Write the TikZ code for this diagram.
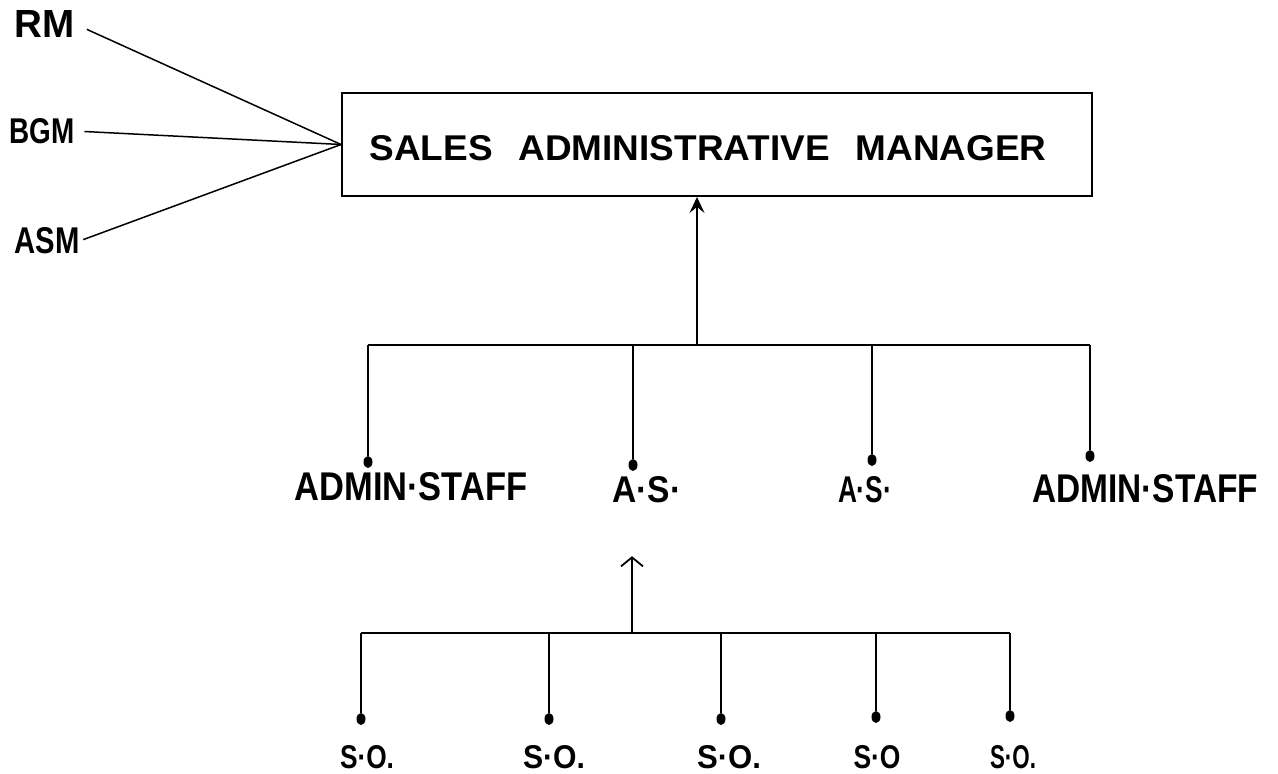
\documentclass[tikz,border=0pt]{standalone}
\usepackage{fontspec}
\setmainfont{Liberation Sans}
\usetikzlibrary{arrows.meta,shapes.geometric}
% bold caption squeezed into a box of given width and height (in pt)
\newcommand{\handtext}[3]{\resizebox{#1pt}{#2pt}{\bfseries #3}}
\begin{document}
\begin{tikzpicture}[x=1pt,y=-1pt,
  ink/.style={line width=1.5pt, black},
  lbl/.style={inner sep=0pt, outer sep=0pt},
  knob/.style={ellipse, fill=black, inner sep=0pt, minimum width=9pt, minimum height=12pt},
  headbox/.style={draw, line width=1.9pt, inner sep=0pt,
                  minimum width=750pt, minimum height=103pt}]
\useasboundingbox (0,0) rectangle (1278,774);

% sources on the left
\node[lbl] (rm)  at (45,24)  {\handtext{60}{27}{RM}};
\node[lbl] (bgm) at (42,131) {\handtext{65}{25}{BGM}};
\node[lbl] (asm) at (47,241) {\handtext{65}{26}{ASM}};

% head box
\node[headbox] (sam) at (717,144.5) {};
\node[lbl] (samtext) at (708,148)
  {\handtext{677}{25}{SALES\hspace{0.7em}ADMINISTRATIVE\hspace{0.7em}MANAGER}};

\draw[ink, shorten <=13pt] (rm.east)  -- (sam.west);
\draw[ink, shorten <=10pt] (bgm.east) -- (sam.west);
\draw[ink, shorten <=4pt]  (asm.east) -- (sam.west);

% middle level
\coordinate (bus1) at (697,345);
\node[knob] (k1) at (368,462)  {};
\node[knob] (k2) at (633,465)  {};
\node[knob] (k3) at (872,460)  {};
\node[knob] (k4) at (1090,456) {};
\draw[ink] (k1 |- bus1) -- (k4 |- bus1);
\foreach \k in {k1,k2,k3,k4} \draw[ink] (\k |- bus1) -- (\k);
\draw[ink, -{Stealth[length=16pt,width=15pt,inset=6pt]}] (bus1) -- (bus1 |- sam.south);

\node[lbl] (ad1) at (411,487)  {\handtext{233}{28}{ADMIN·STAFF}};
\node[lbl] (as1) at (647,490)  {\handtext{69}{26}{A·S·}};
\node[lbl] (as2) at (865,490)  {\handtext{54}{26}{A·S·}};
\node[lbl] (ad2) at (1145,489) {\handtext{226}{28}{ADMIN·STAFF}};

% bottom level
\coordinate (bus2) at (632,633);
\node[knob] (j1) at (361,719)  {};
\node[knob] (j2) at (549,719)  {};
\node[knob] (j3) at (721,719)  {};
\node[knob] (j4) at (876,717)  {};
\node[knob] (j5) at (1010,716) {};
\draw[ink] (j1 |- bus2) -- (j5 |- bus2);
\foreach \j in {j1,j2,j3,j4,j5} \draw[ink] (\j |- bus2) -- (\j);
\draw[ink, shorten >=53pt, -{Straight Barb[length=9pt,width=22pt,line width=1.8pt]}]
  (bus2) -- (bus2 |- as1.south);

\node[lbl] (so1) at (367,757)  {\handtext{54}{23}{S·O.}};
\node[lbl] (so2) at (554,757)  {\handtext{62}{23}{S·O.}};
\node[lbl] (so3) at (729,757)  {\handtext{64}{23}{S·O.}};
\node[lbl] (so4) at (877,757)  {\handtext{47}{23}{S·O}};
\node[lbl] (so5) at (1013,757) {\handtext{46}{23}{S·O.}};
\end{tikzpicture}
\end{document}
